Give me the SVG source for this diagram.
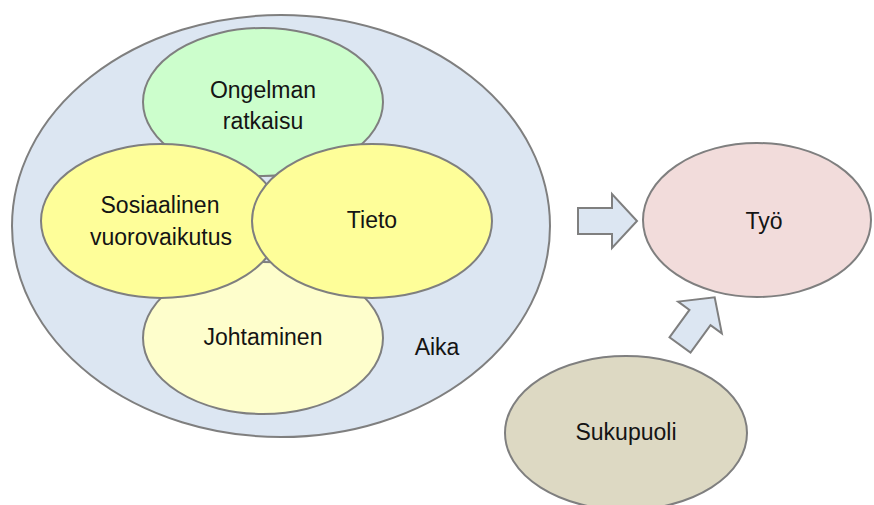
<svg xmlns="http://www.w3.org/2000/svg" width="874" height="505" viewBox="0 0 874 505">
<defs>
<style>
.n{stroke:#7f7f7f;stroke-width:2}
.t{font-family:"Liberation Sans",Arial,sans-serif;font-size:23px;fill:#141414;text-anchor:middle}
.a{fill:#dce6f2;stroke:#7f7f7f;stroke-width:2;stroke-linejoin:miter}
</style>
<path id="arr" d="M0,-13 L34,-13 L34,-27 L59,0 L34,27 L34,13 L0,13 Z"/>
</defs>
<rect width="874" height="505" fill="#ffffff"/>
<g id="aika">
<ellipse class="n" cx="281" cy="226" rx="269" ry="211" fill="#dce6f2"/>
<text class="t" x="437" y="355">Aika</text>
</g>
<g id="ongelman">
<ellipse class="n" cx="263" cy="102" rx="120" ry="74" fill="#ccfecc"/>
<text class="t" x="263" y="98">Ongelman</text>
<text class="t" x="263" y="129">ratkaisu</text>
</g>
<g id="johtaminen">
<ellipse class="n" cx="263" cy="338" rx="120" ry="76" fill="#fefecc"/>
<text class="t" x="263" y="345">Johtaminen</text>
</g>
<g id="sosiaalinen">
<ellipse class="n" cx="161" cy="221" rx="120" ry="77" fill="#fefe99"/>
<text class="t" x="160" y="213">Sosiaalinen</text>
<text class="t" x="161" y="245">vuorovaikutus</text>
</g>
<g id="tieto">
<ellipse class="n" cx="372" cy="221" rx="120" ry="77" fill="#fefe99"/>
<text class="t" x="372" y="228">Tieto</text>
</g>
<g id="tyo">
<ellipse class="n" cx="757" cy="220" rx="114" ry="77" fill="#f2dcdb"/>
<text class="t" x="764" y="229">Työ</text>
</g>
<g id="sukupuoli">
<ellipse class="n" cx="626" cy="433" rx="121" ry="77" fill="#ddd9c3"/>
<text class="t" x="626" y="440">Sukupuoli</text>
</g>
<g id="connectors">
<use href="#arr" class="a" transform="translate(578,221)"/>
<use href="#arr" class="a" transform="translate(680,345) rotate(-54)"/>
</g>
</svg>
